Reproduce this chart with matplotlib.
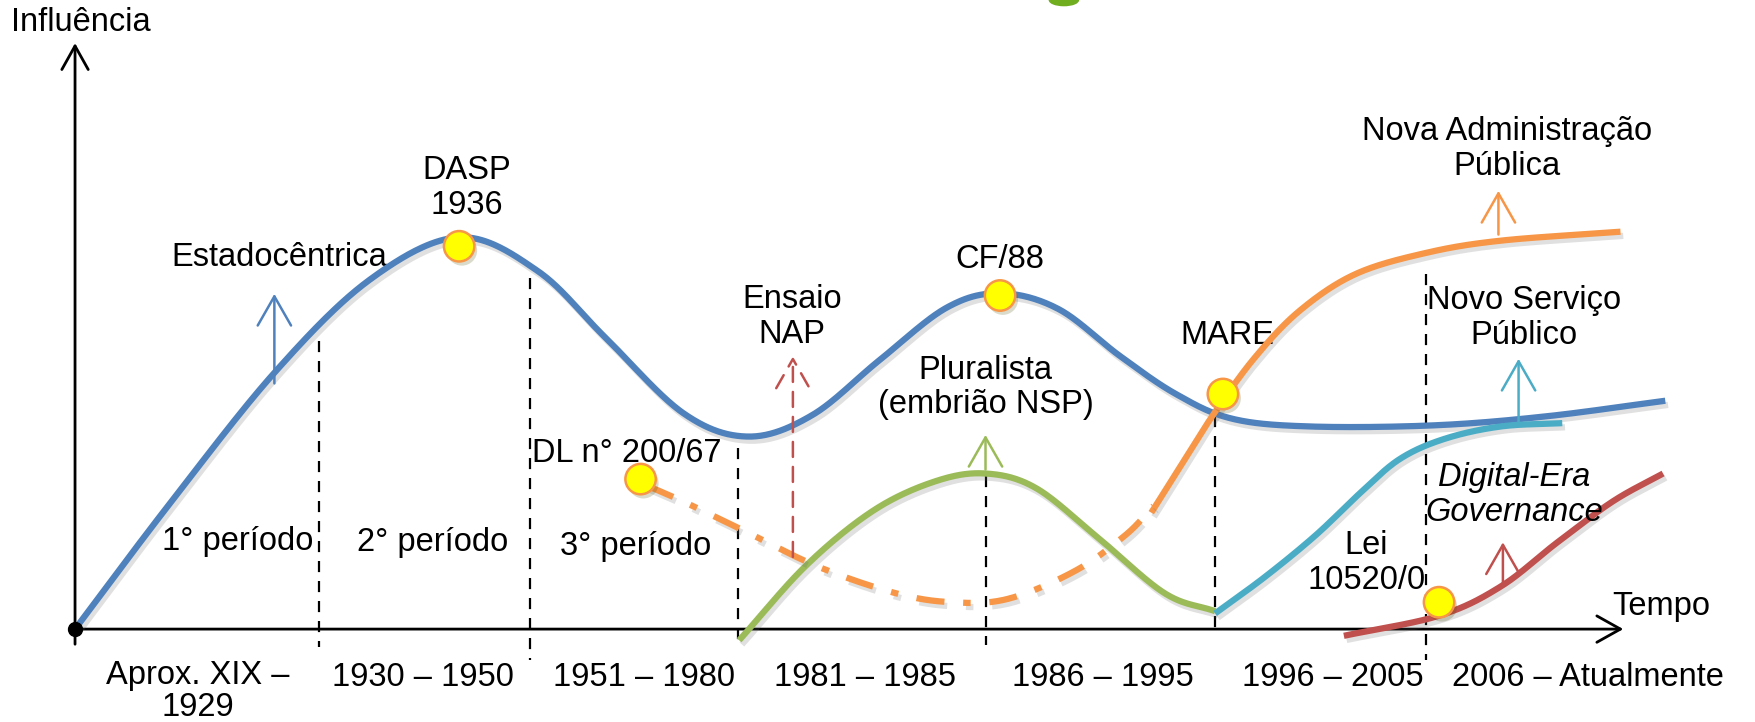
import numpy as np
import matplotlib
matplotlib.use("Agg")
import matplotlib.pyplot as plt
import matplotlib.patheffects as pe
from matplotlib.patches import Ellipse

plt.rcParams['font.family'] = ['Liberation Sans', 'DejaVu Sans']

# ---------------- data (diagram coordinates: x = time, y = influence drawn downward) -------------
blue_x = [67, 150, 245, 330, 410, 480, 540, 610, 668, 725, 785, 845, 893, 945, 1000, 1050, 1100, 1170, 1280, 1380, 1487]
blue_y = [562, 452, 333, 250, 212, 242, 301, 369, 390, 371, 322, 275, 262, 276, 318, 352, 374, 381, 380, 372, 358]

orange_dash_x = [578, 610, 660, 730, 800, 850, 900, 960, 1005, 1030]
orange_dash_y = [434, 448, 472, 506, 530, 538, 535, 510, 478, 452]

orange_x = [1028, 1055, 1085, 1120, 1160, 1210, 1273, 1340, 1447]
orange_y = [458, 415, 368, 320, 278, 245, 226, 215, 207]

green_x = [660, 720, 780, 835, 880, 925, 980, 1040, 1085]
green_y = [572, 505, 456, 430, 423, 436, 480, 530, 546]

cyan_x = [1085, 1130, 1175, 1215, 1250, 1290, 1340, 1395]
cyan_y = [548, 515, 478, 440, 410, 392, 381, 378]

red_x = [1200, 1285, 1340, 1390, 1440, 1485]
red_y = [568, 550, 524, 485, 448, 423]

dots_x = [410, 893, 1092, 572, 1285]
dots_y = [220, 264, 352, 428, 538]

divider_x = [285, 473, 659, 880, 1085, 1273]
divider_top = [305, 248, 400, 425, 372, 245]
divider_bot = [578, 590, 572, 576, 562, 590]

period_labels = ["1° período", "2° período", "3° período"]
period_x = [212, 386, 568]
period_y = [484, 485, 488]

era_labels = ["Aprox. XIX –\n1929", "1930 – 1950", "1951 – 1980", "1981 – 1985",
              "1986 – 1995", "1996 – 2005", "2006 – Atualmente"]
era_x = [177, 378, 575, 772, 985, 1190, 1418]

# arrows: x, y_start, y_end, color, dashed
arrows = [
    (245, 345, 260, '#4F81BD', False),
    (708, 500, 316, '#C0504D', True),
    (880, 422, 386, '#9BBB59', False),
    (1338, 212, 168, '#F79646', False),
    (1356, 380, 318, '#4BACC6', False),
    (1342, 525, 482, '#C0504D', False),
]

# ---------------- helpers ----------------
def smooth(xs, ys, n=40):
    P = np.column_stack([xs, ys]).astype(float)
    P = np.vstack([2 * P[0] - P[1], P, 2 * P[-1] - P[-2]])
    out = []
    t = np.linspace(0, 1, n, endpoint=False)
    for i in range(1, len(P) - 2):
        p0, p1, p2, p3 = P[i - 1], P[i], P[i + 1], P[i + 2]
        seg = 0.5 * ((2 * p1)[None, :] + (-p0 + p2)[None, :] * t[:, None]
                     + (2 * p0 - 5 * p1 + 4 * p2 - p3)[None, :] * (t ** 2)[:, None]
                     + (-p0 + 3 * p1 - 3 * p2 + p3)[None, :] * (t ** 3)[:, None])
        out.append(seg)
    out.append(P[-2][None, :])
    out = np.vstack(out)
    return out[:, 0], out[:, 1]

shadow = [pe.SimpleLineShadow(offset=(2, -3), shadow_color='#666666', alpha=0.2), pe.Normal()]

fig = plt.figure(figsize=(17.56, 7.22), dpi=100)
ax = fig.add_axes([0, 0, 1, 1])
ax.set_xlim(0, 1568)
ax.set_ylim(645, 0)
ax.axis('off')

FS = 23.5
LS = 1.15

# axes
ax.annotate('', xy=(67, 36), xytext=(67, 578),
            arrowprops=dict(arrowstyle='->,head_length=1.7,head_width=0.95', lw=2.0, color='black'))
ax.annotate('', xy=(1452, 562), xytext=(67, 562),
            arrowprops=dict(arrowstyle='->,head_length=1.7,head_width=0.95', lw=2.0, color='black'))
ax.text(10, 20, "Influência", fontsize=FS, ha='left', va='center')
ax.text(1440, 542, "Tempo", fontsize=FS, ha='left', va='center')

# dividers
for x, t, b in zip(divider_x, divider_top, divider_bot):
    ax.plot([x, x], [t, b], color='black', lw=1.6, ls=(0, (5, 4)), zorder=2)

# curves
lw = 4.5
ax.plot(*smooth(blue_x, blue_y), color='#4F81BD', lw=lw, solid_capstyle='butt', path_effects=shadow, zorder=4)
ax.plot(*smooth(green_x, green_y), color='#9BBB59', lw=lw, solid_capstyle='butt', path_effects=shadow, zorder=4)
ax.plot(*smooth(cyan_x, cyan_y), color='#4BACC6', lw=lw, solid_capstyle='butt', path_effects=shadow, zorder=4)
ax.plot(*smooth(red_x, red_y), color='#C0504D', lw=lw, solid_capstyle='butt', path_effects=shadow, zorder=4)
ax.plot(*smooth(orange_x, orange_y), color='#F79646', lw=lw, solid_capstyle='butt', path_effects=shadow, zorder=5)
ax.plot(*smooth(orange_dash_x, orange_dash_y), color='#F79646', lw=lw, ls=(0, (4.5, 3, 1.2, 3)),
        solid_capstyle='butt', dash_capstyle='butt', path_effects=shadow, zorder=5)

# arrows
for x, y0, y1, c, dashed in arrows:
    ax.annotate('', xy=(x, y1), xytext=(x, y0),
                arrowprops=dict(arrowstyle='->,head_length=2.1,head_width=1.2', lw=1.8, color=c,
                                linestyle=(0, (6, 4)) if dashed else '-'), zorder=6)

# origin dot and yellow dots
ax.plot([67], [562], 'o', color='black', ms=10, zorder=7)
ax.scatter(dots_x, dots_y, s=480, color='#FFFF00', edgecolor='#F79646', linewidth=1.8, zorder=8,
           path_effects=[pe.SimplePatchShadow(offset=(2, -3), alpha=0.2), pe.Normal()])

# green fragment at top
ax.add_patch(Ellipse((950, 0), 26, 10, color='#70AD1F', zorder=3))

# labels
ax.text(417, 168, "DASP\n1936", fontsize=FS, ha='center', va='center', linespacing=LS)
ax.text(153, 230, "Estadocêntrica", fontsize=FS, ha='left', va='center')
ax.text(707, 283, "Ensaio\nNAP", fontsize=FS, ha='center', va='center', linespacing=LS)
ax.text(893, 232, "CF/88", fontsize=FS, ha='center', va='center')
ax.text(880, 346, "Pluralista\n(embrião NSP)", fontsize=FS, ha='center', va='center', linespacing=LS)
ax.text(475, 405, "DL n° 200/67", fontsize=FS, ha='left', va='center')
ax.text(1096, 300, "MARE", fontsize=FS, ha='center', va='center')
ax.text(1346, 133, "Nova Administração\nPública", fontsize=FS, ha='center', va='center', linespacing=LS)
ax.text(1361, 284, "Novo Serviço\nPúblico", fontsize=FS, ha='center', va='center', linespacing=LS)
ax.text(1352, 442, "Digital-Era\nGovernance", fontsize=FS, ha='center', va='center', style='italic',
        linespacing=LS, zorder=9)
ax.text(1220, 503, "Lei\n10520/0", fontsize=FS, ha='center', va='center', linespacing=LS)

for lab, x, y in zip(period_labels, period_x, period_y):
    ax.text(x, y, lab, fontsize=FS, ha='center', va='center')

for lab, x in zip(era_labels, era_x):
    if '\n' in lab:
        ax.text(x, 618, lab, fontsize=FS, ha='center', va='center', linespacing=1.05)
    else:
        ax.text(x, 605, lab, fontsize=FS, ha='center', va='center')

fig.savefig("out.png", dpi=100, facecolor='white')
